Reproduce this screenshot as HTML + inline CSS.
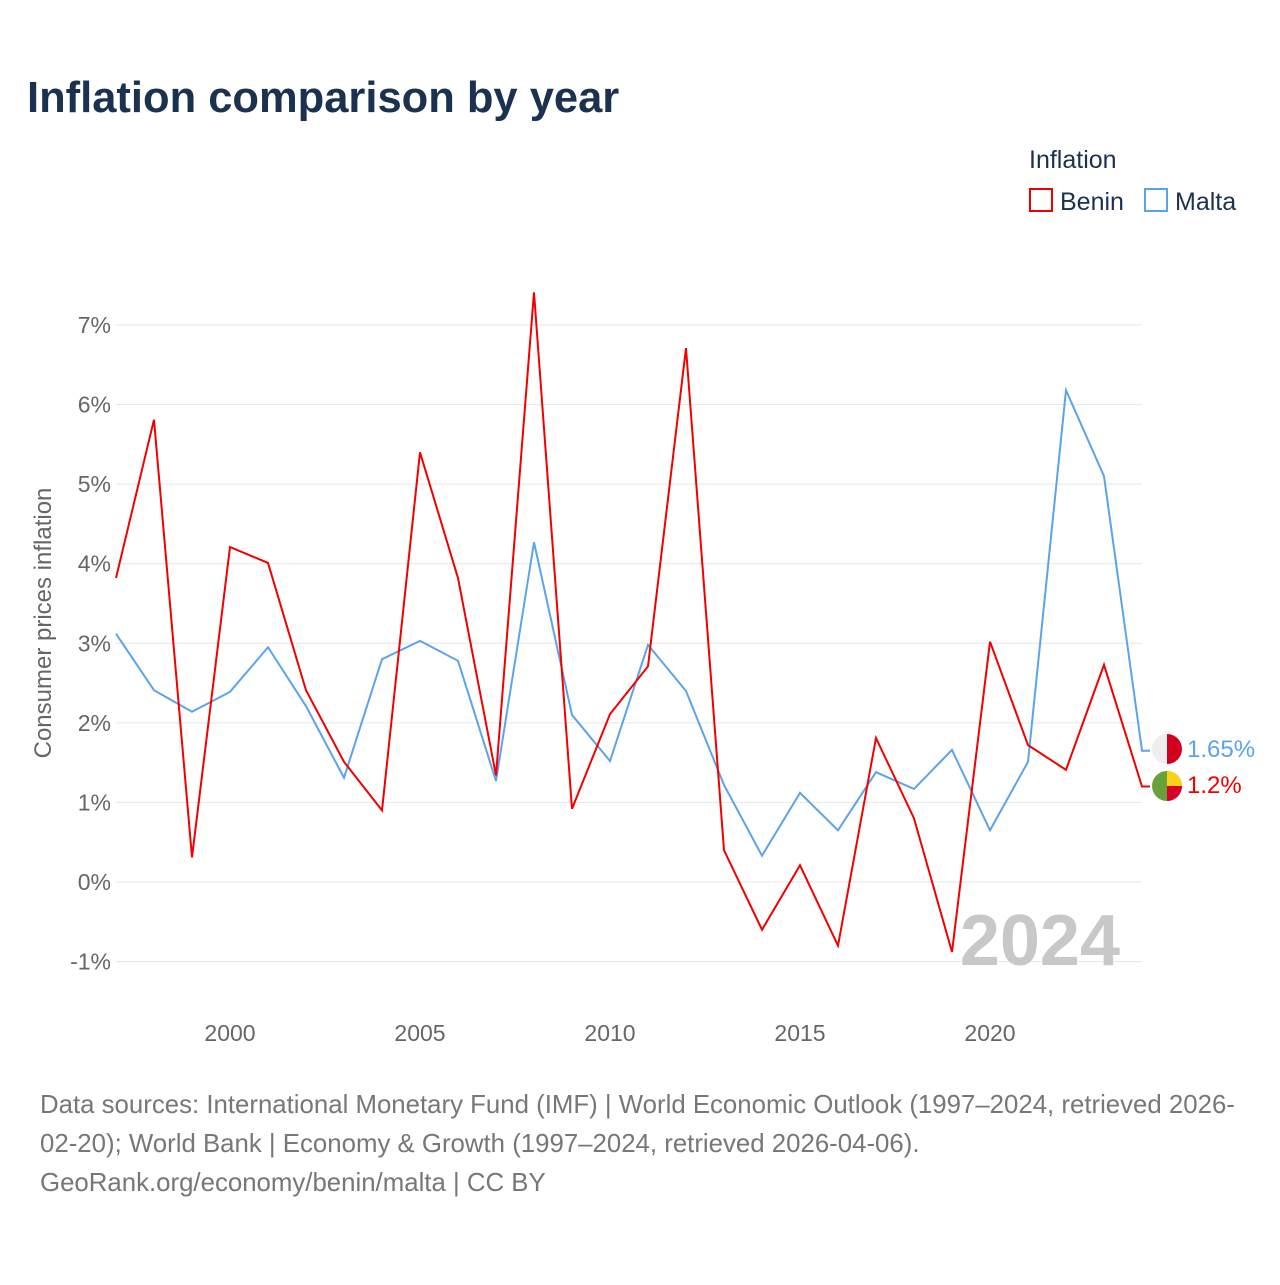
<!DOCTYPE html>
<html><head><meta charset="utf-8"><style>
body{margin:0;background:#fff;font-family:"Liberation Sans",sans-serif}
svg text{font-family:"Liberation Sans",sans-serif}
</style></head><body>
<svg width="1280" height="1280" xmlns="http://www.w3.org/2000/svg" id="chart">
<text x="27" y="112" font-size="43.5" font-weight="bold" fill="#1a3150">Inflation comparison by year</text>
<text x="1029" y="168" font-size="25" fill="#1a3150">Inflation</text>
<g><rect x="1030" y="189" width="22" height="22" fill="none" stroke="#f20000" stroke-width="2"/><text x="1060" y="210" font-size="25" fill="#1a3150">Benin</text></g>
<g><rect x="1145" y="189" width="22" height="22" fill="none" stroke="#5ba4ea" stroke-width="2"/><text x="1175" y="210" font-size="25" fill="#1a3150">Malta</text></g>
<g id="grid"></g><g id="yticks"></g><g id="xticks"></g>
<text transform="translate(51,623) rotate(-90)" text-anchor="middle" font-size="24" fill="#666">Consumer prices inflation</text>
<text x="1120" y="965" text-anchor="end" font-size="72" font-weight="bold" fill="#c8c8c8">2024</text>
<g id="series"></g>
<g><circle cx="1167" cy="749" r="15" fill="#eee"/><path d="M1167 734 A15 15 0 0 1 1167 764 Z" fill="#d2001e"/></g>
<g><circle cx="1167" cy="786" r="15" fill="#6aa03c"/><path d="M1167 771 A15 15 0 0 1 1182 786 L1167 786 Z" fill="#fcd116"/><path d="M1167 786 L1182 786 A15 15 0 0 1 1167 801 Z" fill="#d8002a"/></g>
<text x="1187" y="757" font-size="24" fill="#5ba4ea">1.65%</text>
<text x="1187" y="793" font-size="24" fill="#f20000">1.2%</text>
<text font-size="25.8" fill="#777"><tspan x="40" y="1113">Data sources: International Monetary Fund (IMF) | World Economic Outlook (1997–2024, retrieved 2026-</tspan><tspan x="40" y="1152">02-20); World Bank | Economy &amp; Growth (1997–2024, retrieved 2026-04-06).</tspan><tspan x="40" y="1191">GeoRank.org/economy/benin/malta | CC BY</tspan></text>
</svg>
<script>
const years=[1997,1998,1999,2000,2001,2002,2003,2004,2005,2006,2007,2008,2009,2010,2011,2012,2013,2014,2015,2016,2017,2018,2019,2020,2021,2022,2023,2024];
const benin=[3.82,5.81,0.31,4.21,4.01,2.41,1.51,0.9,5.4,3.82,1.34,7.41,0.92,2.11,2.71,6.71,0.4,-0.6,0.21,-0.8,1.81,0.8,-0.88,3.02,1.72,1.41,2.73,1.2];
const malta=[3.12,2.41,2.14,2.39,2.95,2.21,1.31,2.8,3.03,2.78,1.27,4.27,2.1,1.52,2.98,2.4,1.22,0.33,1.12,0.65,1.38,1.17,1.66,0.65,1.51,6.18,5.1,1.65];
const yTicks=[-1,0,1,2,3,4,5,6,7];
const xTicks=[2000,2005,2010,2015,2020];
const NS="http://www.w3.org/2000/svg";
const x=v=>116+(v-1997)*38;
const y=v=>882-v*79.57;
function mk(t,a,p){const e=document.createElementNS(NS,t);for(const k in a)e.setAttribute(k,a[k]);document.getElementById(p).appendChild(e);return e;}
yTicks.forEach(v=>{
 const l=mk('line',{x1:116,x2:1142,y1:y(v),y2:y(v),stroke:'#e6e6e6','stroke-width':1},'grid');
 
 
 const t=mk('text',{x:111,y:y(v)+8,'text-anchor':'end','font-size':23,fill:'#666'},'yticks');
 t.textContent=v+'%';
 
 
});
xTicks.forEach(v=>{
 const t=mk('text',{x:x(v),y:1041,'text-anchor':'middle','font-size':23,fill:'#666'},'xticks');
 t.textContent=v;
 
 
});
function line(vals,col,name){
 let d=vals.map((v,i)=>(i?'L':'M')+x(years[i])+' '+y(v)).join(' ');
 d+=' L'+(x(years[years.length-1])+8)+' '+y(vals[vals.length-1]);
 const p=mk('path',{d:d,fill:'none',stroke:col,'stroke-width':2,'stroke-linejoin':'miter'},'series');
 
 
}
line(malta,'#5ba4ea','malta-line');
line(benin,'#f20000','benin-line');
</script>
</body></html>
